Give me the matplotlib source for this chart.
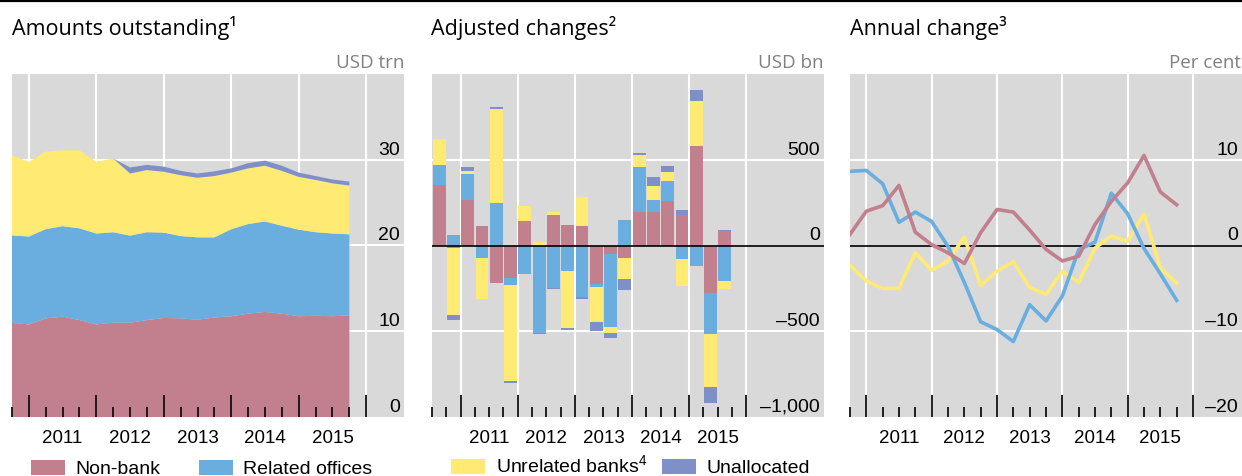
import matplotlib
matplotlib.use("Agg")
import matplotlib.pyplot as plt
from matplotlib.patches import Patch
from matplotlib.lines import Line2D
import numpy as np
import pandas as pd

plt.rcParams["mathtext.fontset"] = "custom"
plt.rcParams["mathtext.rm"] = "Liberation Sans"

# quarterly observations, 2010 Q3 - 2015 Q3
quarters = pd.period_range("2010Q3", "2015Q3", freq="Q")
years = [2011, 2012, 2013, 2014, 2015]
series_names = ["Non-bank", "Related offices", "Unrelated banks$^{4}$", "Unallocated"]

# Amounts outstanding, USD trn
stock_nonbank = [10.97, 10.8, 11.5, 11.7, 11.3, 10.8, 11.0, 11.0, 11.3, 11.55, 11.5,
                 11.35, 11.6, 11.75, 12.05, 12.25, 12.05, 11.75, 11.8, 11.75, 11.85]
stock_related = [10.2, 10.25, 10.4, 10.55, 10.7, 10.6, 10.55, 10.15, 10.25, 9.95, 9.6,
                 9.6, 9.35, 10.15, 10.45, 10.55, 10.25, 10.1, 9.75, 9.65, 9.45]
stock_unrelated = [9.35, 8.7, 9.05, 8.85, 9.1, 8.35, 8.6, 7.25, 7.25, 7.1, 7.1,
                   6.95, 7.15, 6.6, 6.5, 6.5, 6.4, 6.15, 6.1, 5.85, 5.7]
stock_unalloc = [0, 0, 0, 0, 0, 0, 0, 0.7, 0.6, 0.6, 0.5,
                 0.5, 0.55, 0.5, 0.6, 0.6, 0.6, 0.5, 0.45, 0.45, 0.45]
stock_yticks = [0, 10, 20, 30]
stock_ylabels = ["0", "10", "20", "30"]

# Adjusted changes, USD bn
chg_nonbank = [355, -15, 267, 112, -221, -192, 140, 0, 180, 122, 116,
               -227, -52, -70, 198, 198, 262, 180, 581, -279, 87]
chg_related = [116, 64, 151, -70, 250, -41, -169, -512, -250, -151, -302,
               -17, -424, 151, 262, 70, 116, -81, -122, -238, -209]
chg_unrelated = [151, -391, 17, -244, 547, -558, 93, 23, 17, -331, 169,
                 -203, -35, -128, 70, 81, 52, -157, 262, -308, -47]
chg_unalloc = [0, -27, 23, 0, 12, -8, 0, -6, -6, -10, -12,
               -52, -29, -64, 12, 52, 35, 29, 64, -93, 6]
chg_yticks = [-1000, -500, 0, 500]
chg_ylabels = ["\u20131,000", "\u2013500", "0", "500"]

# Annual change, per cent
ann_nonbank = [1.3, 4.0, 4.65, 7.0, 1.55, 0.1, -0.85, -2.1, 1.5, 4.2, 3.9,
               1.8, -0.45, -1.8, -1.25, 2.45, 5.15, 7.3, 10.5, 6.25, 4.75]
ann_related = [8.65, 8.75, 7.2, 2.7, 3.9, 2.8, -0.1, -4.3, -8.9, -9.8, -11.2,
               -6.9, -8.8, -5.9, -0.5, 0.4, 6.1, 3.7, -0.35, -3.3, -6.4]
ann_unrelated = [-2.3, -4.15, -5.0, -5.0, -0.85, -2.9, -1.8, 1.0, -4.65, -3.0, -1.9,
                 -4.9, -5.7, -3.0, -4.3, -0.3, 1.1, 0.5, 3.7, -2.6, -4.4]
ann_yticks = [-20, -10, 0, 10]
ann_ylabels = ["\u201320", "\u201310", "0", "10"]

colors = ["#c27f8e", "#6aaee0", "#ffea73", "#7f8fc8"]
BG = "#d9d9d9"
SANS = ["Liberation Sans", "DejaVu Sans"]
TITLE_FONT = ["Open Sans", "DejaVu Sans"]

W, H = 1242, 476
fig = plt.figure(figsize=(W / 100, H / 100), dpi=100)

def px_axes(left, right, top=74, bottom=417):
    return fig.add_axes([left / W, 1 - bottom / H, (right - left) / W, (bottom - top) / H])

ax1 = px_axes(12, 404)
ax2 = px_axes(432, 824)
ax3 = px_axes(850, 1242)

q_end = np.array([p.year + p.quarter / 4 for p in quarters])
q_mid = q_end - 0.125


def style_axis(ax, xlim, ylim, yticks, ylabels, grid_y, minor_x):
    ax.set_facecolor(BG)
    ax.set_xlim(*xlim)
    ax.set_ylim(*ylim)
    for s in ax.spines.values():
        s.set_visible(False)
    ax.set_xticks(years + [2016])
    ax.set_xticks(minor_x, minor=True)
    ax.tick_params(axis="x", which="major", direction="in", length=15.5, width=1.3,
                   color="#111111", labelbottom=False)
    ax.tick_params(axis="x", which="minor", direction="in", length=7.2, width=1.3,
                   color="#111111")
    ax.set_yticks([])
    for yr in years + [2016]:
        ax.axvline(yr, color="white", lw=1.5, zorder=0.5)
    for g in grid_y:
        ax.axhline(g, color="white", lw=1.5, zorder=0.5)
    for v, lab in zip(yticks, ylabels):
        ax.annotate(lab, xy=(1, v), xycoords=ax.get_yaxis_transform(),
                    xytext=(-3, 3.6), textcoords="offset points",
                    ha="right", va="baseline", fontsize=14, family=SANS,
                    color="black", zorder=5)
    for yr in years:
        ax.annotate(str(yr), xy=(yr + 0.5, 0), xycoords=ax.get_xaxis_transform(),
                    xytext=(0, -19), textcoords="offset points",
                    ha="center", va="baseline", fontsize=13.5, family=SANS,
                    annotation_clip=False)


# panel 1: stacked areas
ax1.stackplot(q_end, stock_nonbank, stock_related, stock_unrelated, stock_unalloc,
              colors=colors, linewidth=0, zorder=1)
style_axis(ax1, (2010.75, 2016.56), (0, 40), stock_yticks, stock_ylabels,
           [10, 20, 30], q_end)

# panel 2: stacked bars, positives and negatives stacked apart
pos = np.zeros(len(q_mid))
neg = np.zeros(len(q_mid))
for vals, c in zip([chg_nonbank, chg_related, chg_unrelated, chg_unalloc], colors):
    vals = np.array(vals, dtype=float)
    bottom = np.where(vals >= 0, pos, neg)
    ax2.bar(q_mid, vals, bottom=bottom, width=0.225, color=c, linewidth=0, zorder=1)
    pos = pos + np.where(vals >= 0, vals, 0)
    neg = neg + np.where(vals < 0, vals, 0)
style_axis(ax2, (2010.5, 2017.36), (-1000, 1000), chg_yticks, chg_ylabels,
           [-500, 500], np.concatenate([[2010.5], q_end]))
ax2.axhline(0, color="black", lw=1.2, zorder=3)

# panel 3: lines
ax3.plot(q_end, ann_unrelated, color=colors[2], lw=2.6, zorder=3)
ax3.plot(q_end, ann_related, color=colors[1], lw=2.6, zorder=3)
ax3.plot(q_end, ann_nonbank, color=colors[0], lw=2.6, zorder=3)
style_axis(ax3, (2010.75, 2016.75), (-20, 20), ann_yticks, ann_ylabels,
           [-10, 10], q_end)
ax3.axhline(0, color="black", lw=1.2, zorder=2)

# titles and units
titles = ["Amounts outstanding\u00b9", "Adjusted changes\u00b2", "Annual change\u00b3"]
units = ["USD trn", "USD bn", "Per cent"]
for t, u, l, r in zip(titles, units, [12, 431, 850], [404, 824, 1241]):
    fig.text(l / W, 1 - 35 / H, t, fontsize=15.5, family=TITLE_FONT, va="baseline",
             ha="left", color="black")
    fig.text(r / W, 1 - 68 / H, u, fontsize=13.5, family=TITLE_FONT, va="baseline",
             ha="right", color="#808080")

fig.add_artist(Line2D([0, 1], [1 - 1 / H, 1 - 1 / H], transform=fig.transFigure,
                      color="black", lw=1.6))

# legends (second one nudged to offset the superscript's extra height)
handles = [Patch(facecolor=c, edgecolor="none") for c in colors]
leg_kw = dict(loc="lower left", frameon=False, ncol=2,
              handlelength=1.75, handleheight=0.8, handletextpad=0.55,
              borderpad=0, borderaxespad=0, prop={"family": SANS, "size": 14})
fig.legend(handles[:2], series_names[:2], bbox_to_anchor=(31 / W, 1 - 478 / H),
           columnspacing=1.95, **leg_kw)
fig.legend(handles[2:], series_names[2:], bbox_to_anchor=(451 / W, 1 - 477 / H),
           columnspacing=0.75, **leg_kw)

fig.savefig("out.png", dpi=100, facecolor="white")
